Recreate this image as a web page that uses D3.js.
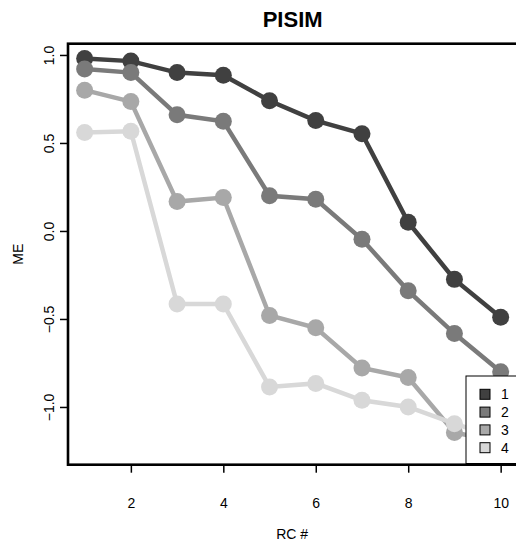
<!DOCTYPE html>
<html><head><meta charset="utf-8">
<script src="https://cdn.jsdelivr.net/npm/d3@7"></script>
<style>body{margin:0;background:#fff}svg{display:block}text{font-family:"Liberation Sans",Arial,sans-serif}</style>
</head><body>
<script>
const rc = [1,2,3,4,5,6,7,8,9,10];
const s1 = [0.98,0.965,0.90,0.885,0.74,0.627,0.553,0.05,-0.275,-0.49];
const s2 = [0.92,0.90,0.66,0.623,0.20,0.18,-0.047,-0.34,-0.583,-0.80];
const s3 = [0.80,0.735,0.167,0.19,-0.48,-0.55,-0.778,-0.833,-1.145,-1.20];
const s4 = [0.56,0.567,-0.415,-0.415,-0.886,-0.866,-0.962,-1.0,-1.095,-1.18];
const seriesNames = ["1","2","3","4"];
const seriesColors = ["#404040","#7a7a7a","#a8a8a8","#d8d8d8"];
const xTicks = [2,4,6,8,10];
const yTicks = [-1.0,-0.5,0.0,0.5,1.0];
const series = [s1,s2,s3,s4];

const W=516,H=544;
const L=68,R=517.3,T=43.7,B=464.7;
const svg=d3.select("body").append("svg").attr("width",W).attr("height",H);
const x=d3.scaleLinear().domain([0.64,10.36]).range([L,R]);
const y=d3.scaleLinear().domain([-1.328,1.064]).range([B,T]);

const line=d3.line().x((d,i)=>x(rc[i])).y(d=>y(d));
series.forEach((s,k)=>{
  const g=svg.append("g");
  g.append("path").datum(s).attr("d",line).attr("fill","none")
    .attr("stroke",seriesColors[k]).attr("stroke-width",4.5);
  g.selectAll("circle").data(s).join("circle")
    .attr("cx",(d,i)=>x(rc[i])).attr("cy",d=>y(d)).attr("r",8.5)
    .attr("fill",seriesColors[k]);
});

// box
svg.append("rect").attr("x",L).attr("y",T).attr("width",R-L).attr("height",B-T)
  .attr("fill","none").attr("stroke","#000").attr("stroke-width",2.6);

// axes
const xa=svg.append("g").attr("transform",`translate(0,${B})`)
  .call(d3.axisBottom(x).tickValues(xTicks).tickSize(8).tickPadding(25).tickFormat(d3.format("d")));
xa.select(".domain").remove();
xa.selectAll("line").attr("stroke-width",1.5);
xa.selectAll("text").attr("font-size",14).attr("fill","#000").attr("font-family","Liberation Sans, Arial, sans-serif");

const ya=svg.append("g").attr("transform",`translate(${L},0)`)
  .call(d3.axisLeft(y).tickValues(yTicks).tickSize(8).tickFormat(d3.format(".1f")));
ya.select(".domain").remove();
ya.selectAll("line").attr("stroke-width",1.5);
ya.selectAll("text").attr("x",null).attr("dy",null).attr("text-anchor","middle")
  .attr("transform","translate(-14,0) rotate(-90)")
  .attr("font-size",14).attr("fill","#000").attr("font-family","Liberation Sans, Arial, sans-serif");

// titles
svg.append("text").attr("x",(L+R)/2).attr("y",27.3).attr("text-anchor","middle")
  .attr("font-size",22).attr("font-weight","bold").text("PISIM");
svg.append("text").attr("x",(L+R)/2-0.5).attr("y",539.3).attr("text-anchor","middle")
  .attr("font-size",14).text("RC #");
svg.append("text").attr("transform",`translate(23.3,${(T+B)/2}) rotate(-90)`).attr("text-anchor","middle")
  .attr("font-size",14).text("ME");

// legend
const lg=svg.append("g");
lg.append("rect").attr("x",466).attr("y",376).attr("width",70).attr("height",87.5)
  .attr("fill","#fff").attr("stroke","#000").attr("stroke-width",1);
const rowY=d3.scaleLinear().domain([0,3]).range([394.3,447.7]);
seriesNames.forEach((n,k)=>{
  lg.append("rect").attr("x",480).attr("y",rowY(k)-5).attr("width",10).attr("height",10)
    .attr("fill",seriesColors[k]).attr("stroke","#000").attr("stroke-width",1);
  lg.append("text").attr("x",501).attr("y",rowY(k)+5).attr("font-size",14).text(n);
});
</script>
</body></html>
